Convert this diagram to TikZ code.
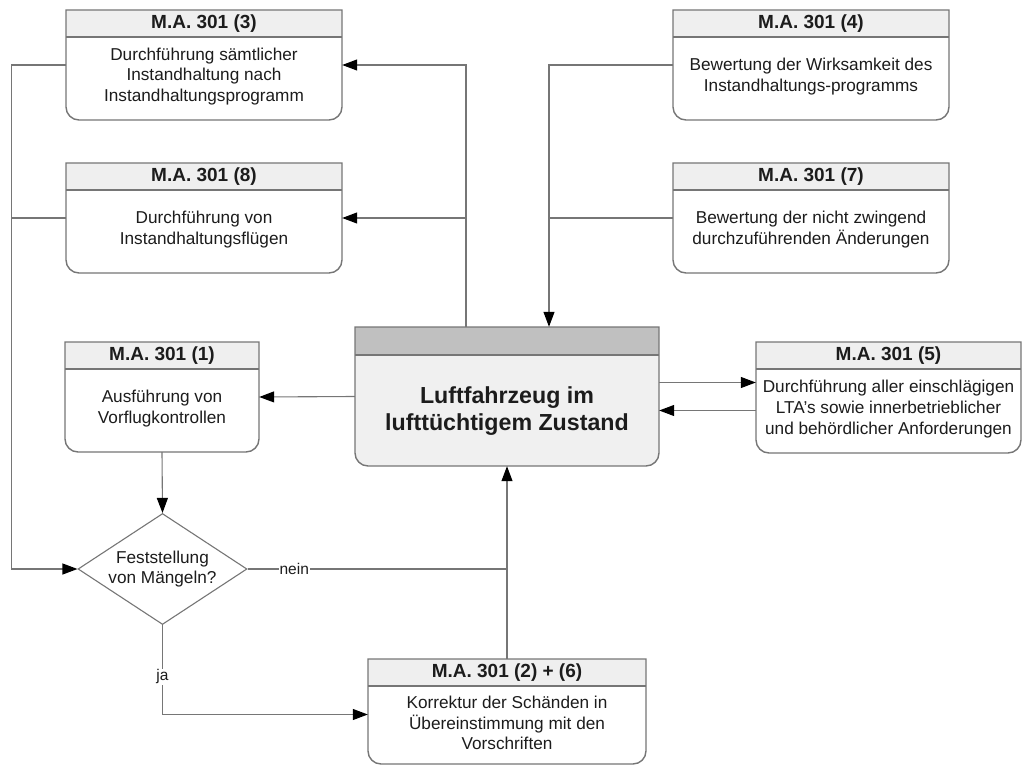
\documentclass[tikz,border=0pt]{standalone}
\usepackage{fontspec}
\setmainfont{Liberation Sans}
\usetikzlibrary{arrows.meta,shapes.geometric,fit}

\definecolor{edgegray}{HTML}{767676}
\definecolor{hdrgray}{HTML}{EFEFEF}
\definecolor{mainhdr}{HTML}{C0C0C0}
\definecolor{mainbody}{HTML}{F0F0F0}
\definecolor{ink}{HTML}{1C1C1C}

\tikzset{
  boxline/.style={draw=edgegray, line width=1.4pt},
  conn/.style={draw=edgegray, line width=1.1pt},
  arr/.style={conn, -{Triangle[length=15pt,width=11pt,color=black]}},
  hdrtext/.style={font=\fontsize{19}{22}\selectfont\bfseries, text=ink, inner sep=0pt},
  bodytext/.style={font=\fontsize{17.2}{20.8}\selectfont, text=ink, align=center, inner sep=0pt},
  edgelabel/.style={font=\fontsize{15.5}{17}\selectfont, text=ink, fill=white, inner sep=1pt},
}

% rule box: name, x1, ytop, x2, ybottom (pixel units, y downwards), header, body
\newcommand\mabox[7]{%
  \node[fit={(#2,-#3) (#4,-#5)}, inner sep=0pt] (#1) {};
  \fill[white] (#2,-#3) -- (#2,{-#5+13}) arc (180:270:13) -- ({#4-13},-#5)
     arc (270:360:13) -- (#4,-#3) -- cycle;
  \fill[hdrgray] (#2,-#3) rectangle (#4,{-#3-27});
  \draw[boxline] (#2,{-#3-27}) -- (#4,{-#3-27});
  \draw[boxline] (#2,-#3) -- (#2,{-#5+13}) arc (180:270:13) -- ({#4-13},-#5)
     arc (270:360:13) -- (#4,-#3) -- cycle;
  \node[hdrtext] (#1h) at ({(#2+#4)/2},{-#3-13.5}) {#6};
  \node[bodytext] (#1t) at ({(#2+#4)/2},{-(#3+27+#5)/2+2}) {#7};
}

\begin{document}
\begin{tikzpicture}[x=1pt,y=1pt]
\useasboundingbox (0,0) rectangle (1023,-765);

\mabox{b3}{66}{10}{342}{120}{M.A. 301 (3)}{Durchführung sämtlicher\\Instandhaltung nach\\Instandhaltungsprogramm}
\mabox{b8}{66}{163}{342}{273}{M.A. 301 (8)}{Durchführung von\\Instandhaltungsflügen}
\mabox{b4}{673}{10}{949}{120}{M.A. 301 (4)}{Bewertung der Wirksamkeit des\\Instandhaltungs-programms}
\mabox{b7}{673}{163}{949}{273}{M.A. 301 (7)}{Bewertung der nicht zwingend\\durchzuführenden Änderungen}
\mabox{b1}{65}{342}{259}{452}{M.A. 301 (1)}{Ausführung von\\Vorflugkontrollen}
\mabox{b5}{756}{342}{1021}{453}{M.A. 301 (5)}{Durchführung aller einschlägigen\\LTA’s sowie innerbetrieblicher\\und behördlicher Anforderungen}
\mabox{bb}{368}{659}{646}{764}{M.A. 301 (2) + (6)}{Korrektur der Schänden in\\Übereinstimmung mit den\\Vorschriften}

% central state box
\node[fit={(355,-327) (659,-466)}, inner sep=0pt] (main) {};
\fill[mainbody] (355,-327) -- (355,-453) arc (180:270:13) -- (646,-466)
   arc (270:360:13) -- (659,-327) -- cycle;
\fill[mainhdr] (355,-327) rectangle (659,-355);
\draw[boxline] (355,-355) -- (659,-355);
\draw[boxline] (355,-327) -- (355,-453) arc (180:270:13) -- (646,-466)
   arc (270:360:13) -- (659,-327) -- cycle;
\node[font=\fontsize{23.2}{27}\selectfont\bfseries, text=ink, align=center, inner sep=0pt]
   (maint) at (507,-411) {Luftfahrzeug im\\lufttüchtigem Zustand};

% decision
\node[shape=diamond, draw=edgegray, line width=1.1pt, fill=white, inner sep=0pt,
   aspect=1.52, minimum width=169pt, minimum height=111pt,
   font=\fontsize{17.2}{20.8}\selectfont, text=ink, align=center]
   (dia) at (162.5,-569) {Feststellung\\von Mängeln?};

% connectors
\draw[arr] (b3.west) -- ++(-54,0) |- (dia.west);
\draw[conn] (b8.west) -- ++(-54,0);

\draw[arr] ([xshift=-41]main.north) |- (b3.east);
\draw[arr] ([xshift=-41]main.north |- b8.east) -- (b8.east);

\draw[arr] (b4.west) -| ([xshift=42]main.north);
\draw[conn] (b7.west) -- ([xshift=42]main.north |- b7.west);

\draw[arr] (main.west) -- (b1.east);
\draw[arr] ([yshift=14]main.east) -- ([yshift=14]main.east -| b5.west);
\draw[arr] ([yshift=-14]main.east -| b5.west) -- ([yshift=-14]main.east);

\draw[arr] (b1.south) -- (dia.north);
\draw[arr] (bb.north) -- (main.south);
\draw[conn] (dia.east) -- node[edgelabel, pos=0.18] (lnein) {nein} (dia.east -| bb.north);
\draw[arr] (dia.south) |- node[edgelabel, pos=0.29] (lja) {ja} ([yshift=-3]bb.west);
\end{tikzpicture}
\end{document}
